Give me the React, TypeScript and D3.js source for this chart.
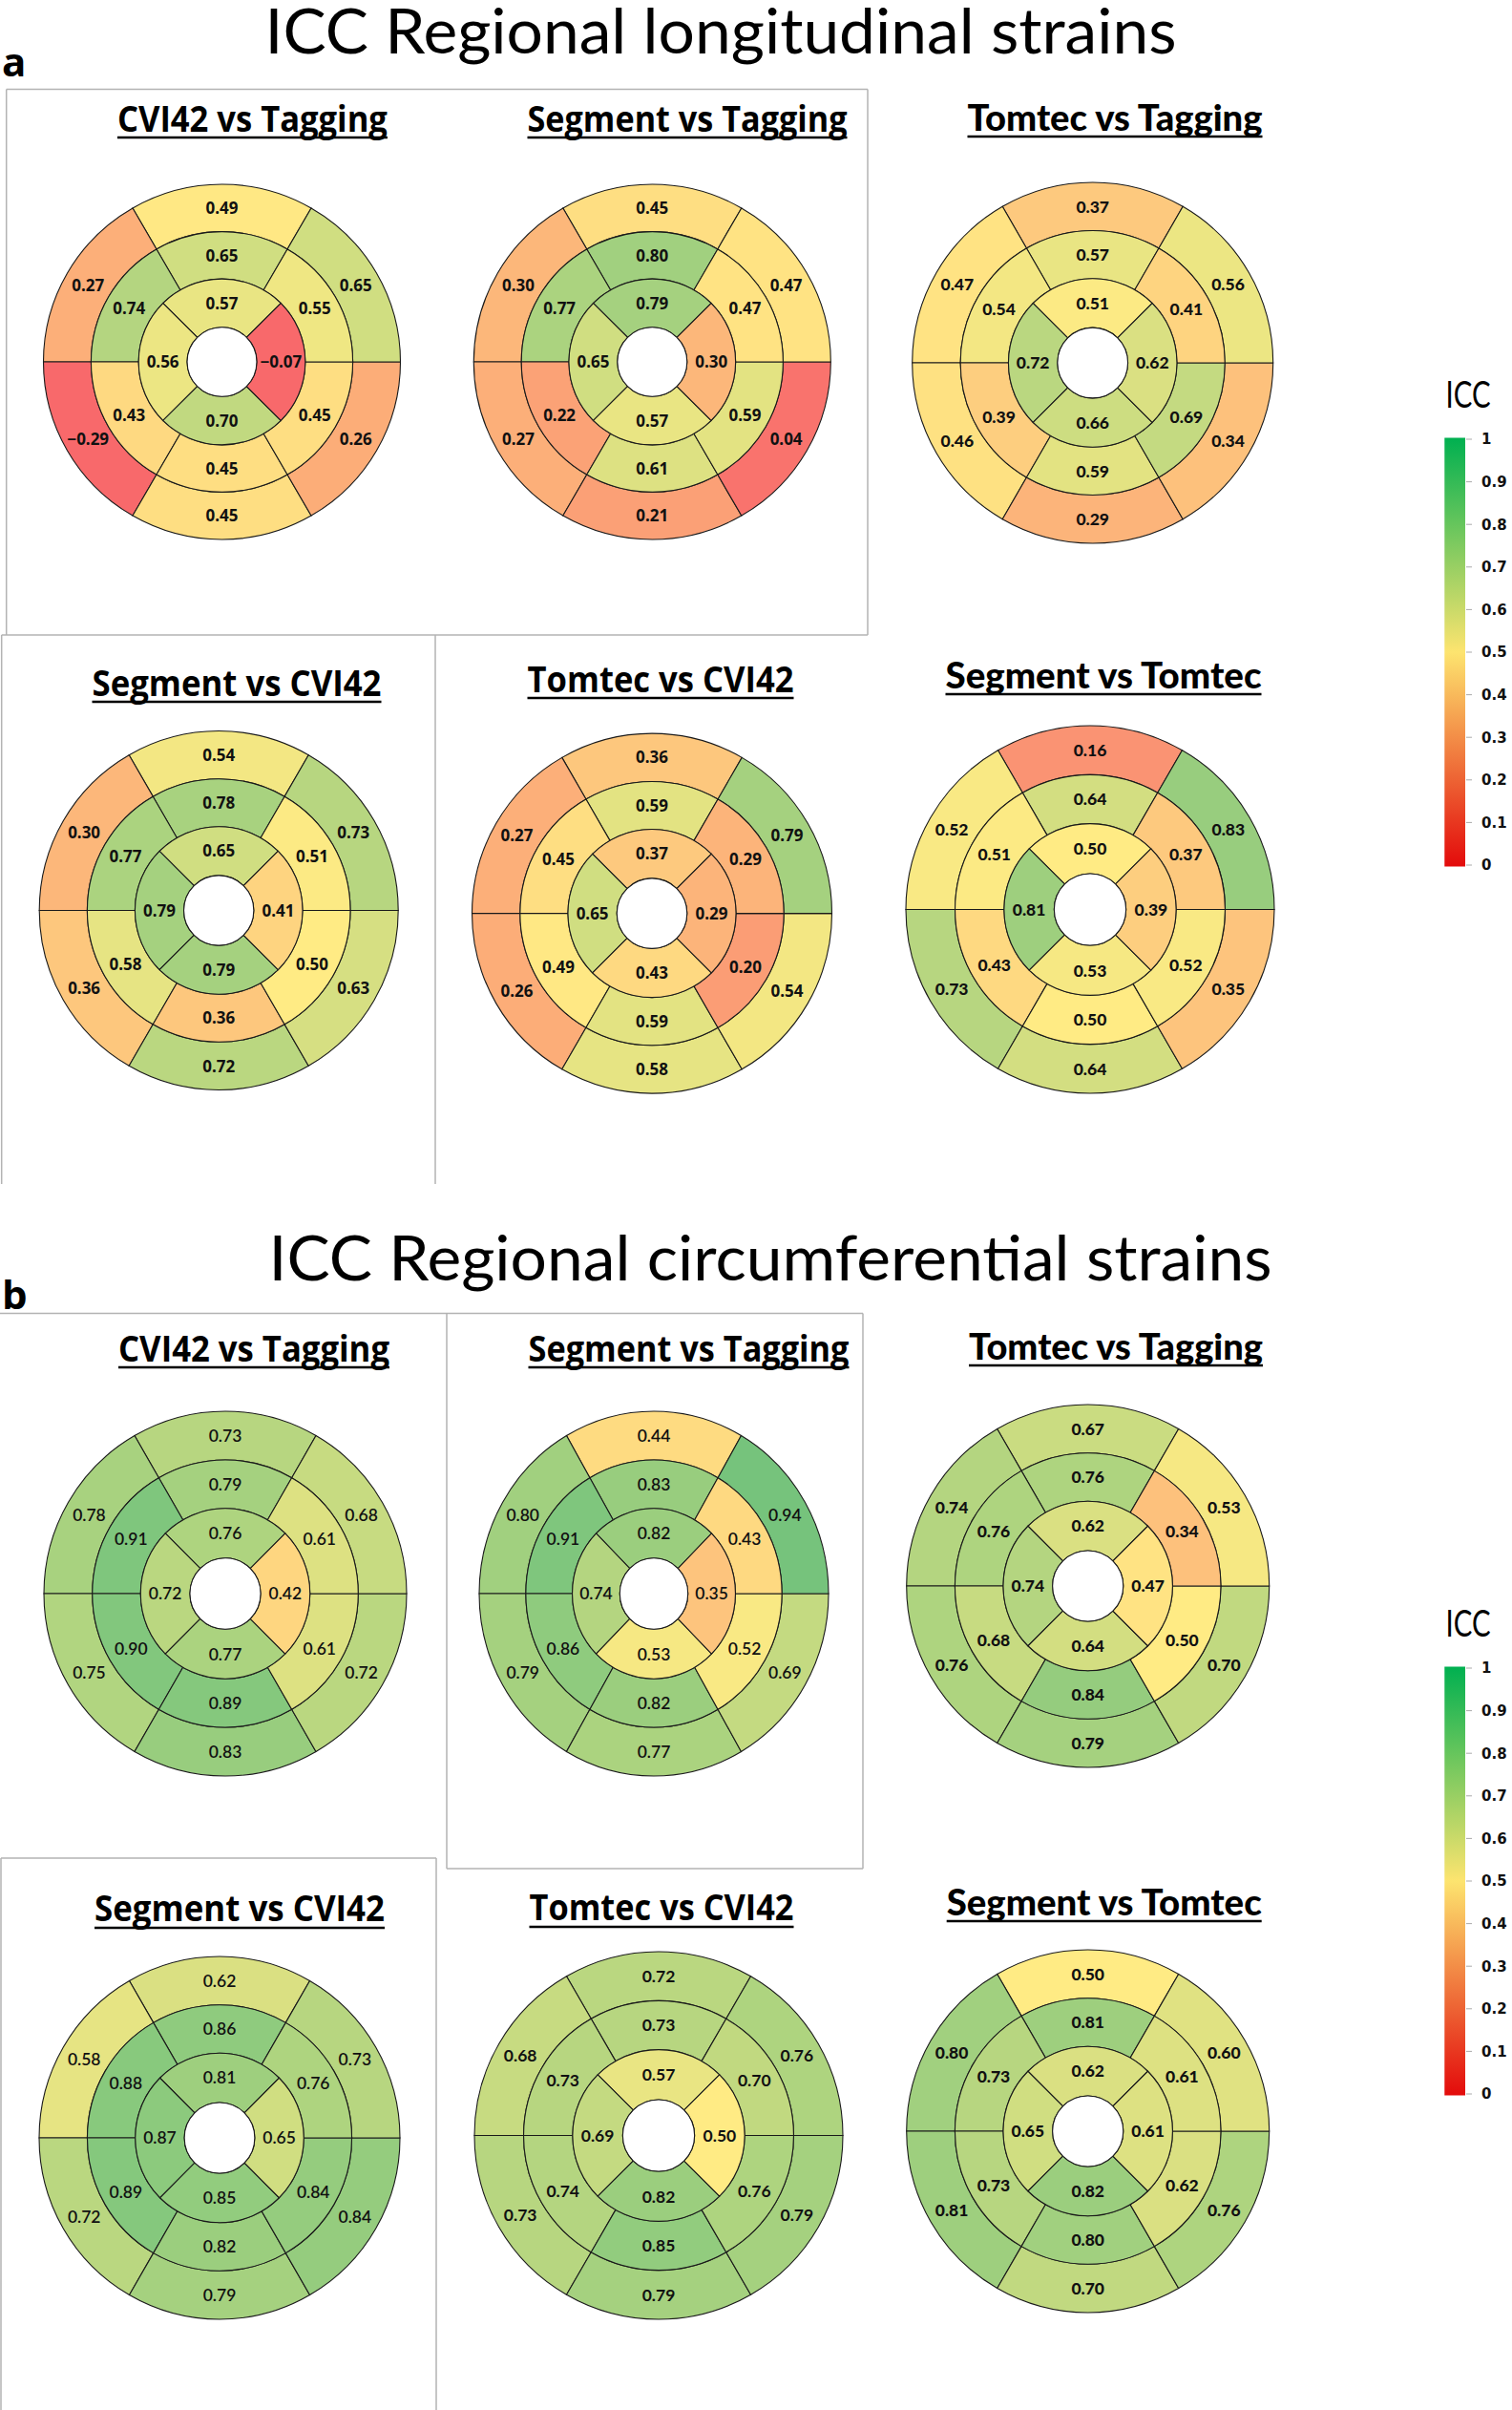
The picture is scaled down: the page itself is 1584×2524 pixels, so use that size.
import React from 'react';
import * as d3 from 'd3';

const plotTitles = [
  'CVI42 vs Tagging',
  'Segment vs Tagging',
  'Tomtec vs Tagging',
  'Segment vs CVI42',
  'Tomtec vs CVI42',
  'Segment vs Tomtec',
];

// Basal / mid order: anterior (top), anteroseptal (upper-left), inferoseptal (lower-left),
// inferior (bottom), inferolateral (lower-right), anterolateral (upper-right)
const longitudinalBasal = [
  [0.49, 0.27, -0.29, 0.45, 0.26, 0.65],
  [0.45, 0.30, 0.27, 0.21, 0.04, 0.47],
  [0.37, 0.47, 0.46, 0.29, 0.34, 0.56],
  [0.54, 0.30, 0.36, 0.72, 0.63, 0.73],
  [0.36, 0.27, 0.26, 0.58, 0.54, 0.79],
  [0.16, 0.52, 0.73, 0.64, 0.35, 0.83],
];
const longitudinalMid = [
  [0.65, 0.74, 0.43, 0.45, 0.45, 0.55],
  [0.80, 0.77, 0.22, 0.61, 0.59, 0.47],
  [0.57, 0.54, 0.39, 0.59, 0.69, 0.41],
  [0.78, 0.77, 0.58, 0.36, 0.50, 0.51],
  [0.59, 0.45, 0.49, 0.59, 0.20, 0.29],
  [0.64, 0.51, 0.43, 0.50, 0.52, 0.37],
];
// Apical order: anterior (top), septal (left), inferior (bottom), lateral (right)
const longitudinalApical = [
  [0.57, 0.56, 0.70, -0.07],
  [0.79, 0.65, 0.57, 0.30],
  [0.51, 0.72, 0.66, 0.62],
  [0.65, 0.79, 0.79, 0.41],
  [0.37, 0.65, 0.43, 0.29],
  [0.50, 0.81, 0.53, 0.39],
];

const circumferentialBasal = [
  [0.73, 0.78, 0.75, 0.83, 0.72, 0.68],
  [0.44, 0.80, 0.79, 0.77, 0.69, 0.94],
  [0.67, 0.74, 0.76, 0.79, 0.70, 0.53],
  [0.62, 0.58, 0.72, 0.79, 0.84, 0.73],
  [0.72, 0.68, 0.73, 0.79, 0.79, 0.76],
  [0.50, 0.80, 0.81, 0.70, 0.76, 0.60],
];
const circumferentialMid = [
  [0.79, 0.91, 0.90, 0.89, 0.61, 0.61],
  [0.83, 0.91, 0.86, 0.82, 0.52, 0.43],
  [0.76, 0.76, 0.68, 0.84, 0.50, 0.34],
  [0.86, 0.88, 0.89, 0.82, 0.84, 0.76],
  [0.73, 0.73, 0.74, 0.85, 0.76, 0.70],
  [0.81, 0.73, 0.73, 0.80, 0.62, 0.61],
];
const circumferentialApical = [
  [0.76, 0.72, 0.77, 0.42],
  [0.82, 0.74, 0.53, 0.35],
  [0.62, 0.74, 0.64, 0.47],
  [0.81, 0.87, 0.85, 0.65],
  [0.57, 0.69, 0.82, 0.50],
  [0.62, 0.65, 0.82, 0.61],
];

const colorbarTicks = [0, 0.1, 0.2, 0.3, 0.4, 0.5, 0.6, 0.7, 0.8, 0.9, 1];
const colorbarTickLabels = ['0', '0.1', '0.2', '0.3', '0.4', '0.5', '0.6', '0.7', '0.8', '0.9', '1'];

const segColor = d3
  .scaleLinear<string>()
  .domain([0, 0.5, 1])
  .range(['#F8696B', '#FFEB84', '#63BE7B'])
  .clamp(true);

const fmt = d3.format('.2f');

const FONT_NOTO = { family: '"Noto Sans", sans-serif', weight: 700, size: 17 };
const FONT_LATO_BLACK = { family: 'Lato, sans-serif', weight: 900, size: 17.5 };
const FONT_LATO = { family: 'Lato, sans-serif', weight: 600, size: 17.5 };
const FONT_LATO_BOLD = { family: 'Lato, sans-serif', weight: 700, size: 17.5 };

const TITLE_OPEN = { family: '"Open Sans", sans-serif', weight: 700, size: 37 };
const TITLE_LATO = { family: 'Lato, sans-serif', weight: 900, size: 37 };

const longLayout = [
  { cx: 232.5, cy: 379, rx: 187, ry: 186, tx: 264.4, tw: 283, ty: 138, uy: 144, font: FONT_NOTO, tfont: TITLE_OPEN },
  { cx: 683.3, cy: 379, rx: 187, ry: 186, tx: 720, tw: 335, ty: 138, uy: 144, font: FONT_NOTO, tfont: TITLE_OPEN },
  { cx: 1144.7, cy: 380, rx: 189, ry: 189, tx: 1168, tw: 309, ty: 137, uy: 143, font: FONT_LATO_BLACK, tfont: TITLE_LATO },
  { cx: 229.2, cy: 953.5, rx: 188, ry: 188, tx: 248, tw: 303, ty: 729, uy: 735, font: FONT_NOTO, tfont: TITLE_OPEN },
  { cx: 683, cy: 956.6, rx: 188.5, ry: 188.5, tx: 692, tw: 279, ty: 725, uy: 731, font: FONT_NOTO, tfont: TITLE_OPEN },
  { cx: 1142, cy: 952.5, rx: 193, ry: 192.5, tx: 1156, tw: 331, ty: 721, uy: 727, font: FONT_LATO_BLACK, tfont: TITLE_LATO },
];

const circLayout = [
  { cx: 236, cy: 1669, rx: 190, ry: 191, tx: 266, tw: 284, ty: 1426, uy: 1432, font: FONT_LATO, tfont: TITLE_OPEN },
  { cx: 685, cy: 1669, rx: 183, ry: 191, tx: 721.5, tw: 336, ty: 1426, uy: 1432, font: FONT_LATO, tfont: TITLE_OPEN },
  { cx: 1139.7, cy: 1661, rx: 190, ry: 190, tx: 1169, tw: 308, ty: 1424, uy: 1430, font: FONT_LATO_BLACK, tfont: TITLE_LATO },
  { cx: 230, cy: 2239, rx: 189, ry: 190, tx: 251, tw: 304, ty: 2012, uy: 2019, font: FONT_LATO, tfont: TITLE_OPEN },
  { cx: 690, cy: 2236.5, rx: 193, ry: 192.5, tx: 693, tw: 277, ty: 2011, uy: 2018, font: FONT_LATO_BOLD, tfont: TITLE_OPEN },
  { cx: 1139.7, cy: 2232, rx: 190, ry: 190, tx: 1156.7, tw: 330, ty: 2006, uy: 2012, font: FONT_LATO_BLACK, tfont: TITLE_LATO },
];

const RADII = [19.5, 46.7, 73.3, 100];

function Bullseye({ lay, title, basal, mid, apical }: any) {
  const sx = lay.rx / 100;
  const sy = lay.ry / 100;
  const arc = d3.arc<any>();
  const rings = [
    { vals: basal, r0: RADII[2], r1: RADII[3] },
    { vals: mid, r0: RADII[1], r1: RADII[2] },
    { vals: apical, r0: RADII[0], r1: RADII[1] },
  ];
  const segs: any[] = [];
  rings.forEach((ring, ri) => {
    const n = ring.vals.length;
    const step = (2 * Math.PI) / n;
    ring.vals.forEach((v: number, i: number) => {
      const c = -i * step;
      const d = {
        innerRadius: ring.r0,
        outerRadius: ring.r1,
        startAngle: c - step / 2,
        endAngle: c + step / 2,
      };
      segs.push({ key: `${ri}-${i}`, v, path: arc(d), centroid: arc.centroid(d) });
    });
  });
  return (
    <g>
      <text
        x={lay.tx}
        y={lay.ty}
        textAnchor="middle"
        textLength={lay.tw}
        lengthAdjust="spacingAndGlyphs"
        fontFamily={lay.tfont.family}
        fontWeight={lay.tfont.weight}
        fontSize={lay.tfont.size}
        fill="#000"
      >
        {title}
      </text>
      <line x1={lay.tx - lay.tw / 2} x2={lay.tx + lay.tw / 2} y1={lay.uy} y2={lay.uy} stroke="#000" strokeWidth={2.6} />
      <g transform={`translate(${lay.cx},${lay.cy}) scale(${sx},${sy})`}>
        {segs.map((s) => (
          <path
            key={s.key}
            d={s.path}
            fill={segColor(s.v)}
            stroke="#1a1a1a"
            strokeWidth={1.1}
            vectorEffect="non-scaling-stroke"
          />
        ))}
        <ellipse cx={0} cy={0} rx={RADII[0]} ry={RADII[0]} fill="#fff" stroke="#1a1a1a" strokeWidth={1.1} vectorEffect="non-scaling-stroke" />
      </g>
      {segs.map((s) => (
        <text
          key={'t' + s.key}
          x={lay.cx + s.centroid[0] * sx}
          y={lay.cy + s.centroid[1] * sy}
          dy="0.36em"
          textAnchor="middle"
          fontFamily={lay.font.family}
          fontWeight={lay.font.weight}
          fontSize={lay.font.size}
          fill="#111"
        >
          {fmt(s.v)}
        </text>
      ))}
    </g>
  );
}

function Colorbar({ dy, id }: { dy: number; id: string }) {
  const y = d3.scaleLinear().domain([0, 1]).range([906 + dy, 460 + dy]);
  const barColor = d3
    .scaleLinear<string>()
    .domain([0, 0.5, 1])
    .range(['#E30B0B', '#FDE46F', '#00B050']);
  const stops = d3.range(0, 1.0001, 0.1);
  return (
    <g>
      <defs>
        <linearGradient id={id} x1="0" y1="1" x2="0" y2="0">
          {stops.map((s) => (
            <stop key={s} offset={`${s * 100}%`} stopColor={barColor(s)} />
          ))}
        </linearGradient>
      </defs>
      <text
        x={1538}
        y={426.5 + dy}
        textAnchor="middle"
        textLength={47}
        lengthAdjust="spacingAndGlyphs"
        fontFamily="Lato, sans-serif"
        fontSize={38}
        fill="#000"
      >
        ICC
      </text>
      <rect x={1513.3} y={y(1) - 1.5} width={21.7} height={y(0) - y(1) + 3} fill={`url(#${id})`} />
      {colorbarTicks.map((t, i) => (
        <g key={t}>
          <line x1={1536} x2={1542} y1={y(t)} y2={y(t)} stroke="#aaa" strokeWidth={1} />
          <text
            x={1552}
            y={y(t)}
            dy="0.36em"
            fontFamily='"DejaVu Sans", Verdana, sans-serif'
            fontWeight={700}
            fontSize={15}
            fill="#111"
          >
            {colorbarTickLabels[i]}
          </text>
        </g>
      ))}
    </g>
  );
}

const frameLines = [
  [6.7, 93.5, 909, 93.5],
  [6.7, 93.5, 6.7, 665],
  [909, 93.5, 909, 665],
  [1.7, 665, 909, 665],
  [1.7, 665, 1.7, 1240],
  [456, 665, 456, 1240],
  [0, 1375.5, 904, 1375.5],
  [468, 1375.5, 468, 1957],
  [904, 1375.5, 904, 1957],
  [468, 1957, 904, 1957],
  [1, 1946, 457, 1946],
  [457, 1946, 457, 2524],
  [1, 1946, 1, 2524],
];

export default function App() {
  return (
    <svg
      width={1584}
      height={2524}
      viewBox="0 0 1584 2524"
      style={{ position: 'absolute', left: 0, top: 0, background: '#fff' }}
    >
      <rect x={0} y={0} width={1584} height={2524} fill="#fff" />
      {frameLines.map((l, i) => (
        <line key={i} x1={l[0]} y1={l[1]} x2={l[2]} y2={l[3]} stroke="#b3b3b3" strokeWidth={1.5} />
      ))}
      <text
        x={755}
        y={56}
        textAnchor="middle"
        textLength={955}
        lengthAdjust="spacingAndGlyphs"
        fontFamily="Lato, sans-serif"
        fontSize={66}
        fill="#000"
      >
        ICC Regional longitudinal strains
      </text>
      <text x={2} y={80} fontFamily='"Open Sans", sans-serif' fontWeight={700} fontSize={42} fill="#000">
        a
      </text>
      <text
        x={807}
        y={1341}
        textAnchor="middle"
        textLength={1051}
        lengthAdjust="spacingAndGlyphs"
        fontFamily="Lato, sans-serif"
        fontSize={66}
        fill="#000"
      >
        ICC Regional circumferential strains
      </text>
      <text x={2} y={1371} fontFamily='"Open Sans", sans-serif' fontWeight={700} fontSize={42} fill="#000">
        b
      </text>
      {longLayout.map((lay, i) => (
        <Bullseye
          key={'L' + i}
          lay={lay}
          title={plotTitles[i]}
          basal={longitudinalBasal[i]}
          mid={longitudinalMid[i]}
          apical={longitudinalApical[i]}
        />
      ))}
      {circLayout.map((lay, i) => (
        <Bullseye
          key={'C' + i}
          lay={lay}
          title={plotTitles[i]}
          basal={circumferentialBasal[i]}
          mid={circumferentialMid[i]}
          apical={circumferentialApical[i]}
        />
      ))}
      <Colorbar dy={0} id="cbA" />
      <Colorbar dy={1287} id="cbB" />
    </svg>
  );
}
